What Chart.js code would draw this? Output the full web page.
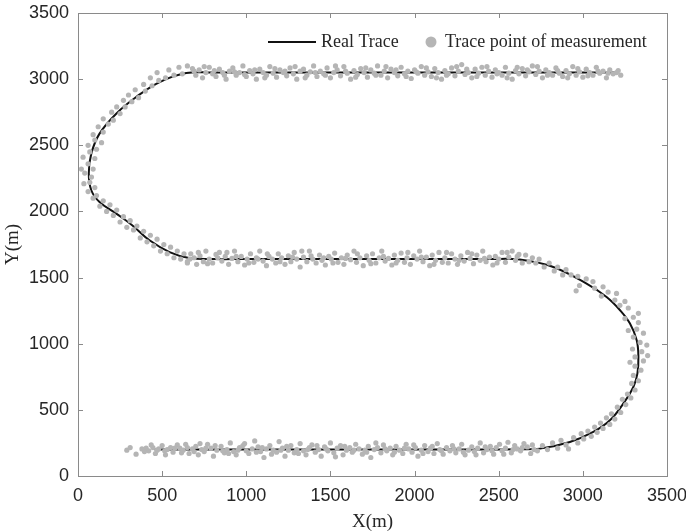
<!DOCTYPE html>
<html>
<head>
<meta charset="utf-8">
<script src="https://cdn.jsdelivr.net/npm/chart.js@4"></script>
<style>
  html, body { margin: 0; padding: 0; background: #fff; }
</style>
</head>
<body>
<canvas id="c" width="686" height="532"></canvas>
<script>
// ---- data ----
const tickVals = [0, 500, 1000, 1500, 2000, 2500, 3000, 3500];

// real trace
const traceX = [455, 1000, 1500, 2000, 2450, 2600, 2745, 2923, 3062, 3161, 3240, 3300, 3324, 3330, 3320, 3280, 3221, 3141, 3022, 2824, 2625, 2450, 2000, 1500, 1000, 800, 660, 544, 425, 320, 227, 128, 79, 64, 79, 128, 227, 346, 485, 643, 800, 1500, 2000, 2600, 3200];
const traceY = [200, 200, 200, 200, 200, 202, 207, 257, 333, 421, 547, 673, 774, 900, 1026, 1152, 1253, 1353, 1454, 1580, 1636, 1640, 1640, 1640, 1640, 1640, 1648, 1693, 1782, 1898, 1983, 2071, 2160, 2286, 2437, 2588, 2739, 2865, 2978, 3046, 3050, 3050, 3050, 3050, 3050];

// measured points, by stretch of the route
const bottomPts = [[290,195],[345,165],[380,205],[405,210],[420,190],[445,215],[460,170],[480,205],[500,230],[515,190],[530,200],[550,215],[565,180],[590,235],[605,210],[625,195],[640,240],[660,170],[680,205],[700,225],[715,160],[735,200],[750,185],[770,240],[790,210],[805,150],[825,195],[850,225],[870,175],[885,200],[905,250],[925,185],[940,160],[960,215],[980,230],[1000,190],[1015,170],[1035,205],[1050,265],[1070,220],[1085,185],[1105,140],[1120,205],[1140,230],[1160,195],[1180,180],[1195,260],[1215,210],[1230,150],[1250,195],[1265,230],[1285,175],[1300,200],[1320,245],[1340,190],[1355,160],[1375,215],[1390,235],[1410,180],[1430,200],[1445,150],[1465,220],[1485,190],[1500,250],[1520,175],[1540,210],[1560,230],[1575,160],[1595,195],[1615,215],[1630,180],[1650,240],[1670,205],[1690,165],[1705,195],[1725,225],[1740,140],[1760,200],[1780,215],[1800,175],[1815,235],[1835,190],[1855,210],[1870,160],[1890,225],[1910,195],[1930,170],[1950,240],[1965,205],[1985,180],[2005,215],[2020,150],[2040,195],[2060,230],[2080,185],[2095,210],[2115,170],[2135,245],[2150,200],[2170,165],[2190,215],[2210,190],[2225,230],[2245,175],[2265,205],[2280,240],[2300,160],[2320,195],[2340,220],[2355,185],[2375,210],[2390,250],[2410,175],[2430,200],[2450,225],[2470,165],[2485,215],[2505,240],[2520,190],[2540,210],[2555,255],[2575,175],[2595,230],[2610,205],[2630,190],[2650,245],[2670,220],[2690,170],[2710,200],
  [310,215],[395,185],[435,235],[470,195],[520,160],[575,210],[615,175],[650,215],[690,185],[725,245],[760,210],[815,230],[860,190],[895,170],[950,195],[990,245],[1060,180],[1095,215],[1150,165],[1205,195],[1240,225],[1310,170],[1365,200],[1420,230],[1475,205],[1530,145],[1585,225],[1640,195],[1715,180],[1770,250],[1825,205],[1880,180],[1940,210],[1995,235],[2050,170],[2105,225],[2160,190],[2235,205],[2290,180],[2365,160],[2420,220],[2460,190],[2530,165],[2585,200],[2640,215],[2700,235]];
const rightPts = [[2730,190],[2760,230],[2790,200],[2820,250],[2850,210],[2870,270],[2900,235],[2915,205],[2945,290],[2970,250],[2990,320],[3005,280],[3030,340],[3050,300],[3070,370],[3085,330],[3105,400],[3120,360],[3140,440],[3160,390],[3170,470],[3190,430],[3205,520],[3225,480],[3235,580],[3255,540],[3265,620],[3285,590],[3290,700],[3310,650],[3300,760],[3330,720],[3345,800],[3310,830],[3280,860],[3360,870],[3310,900],[3385,910],[3350,940],[3295,960],[3380,990],[3340,1010],[3300,1050],[3360,1080],[3320,1110],[3270,1100],[3330,1160],[3300,1200],[3250,1190],[3330,1230],[3270,1270],[3220,1290],[3250,1320],[3190,1330],[3200,1380],[3150,1390],[3110,1360],[3120,1430],[3070,1420],[3060,1470],[3020,1490],[2980,1440],[2970,1510],[2930,1520],[2960,1400],[2900,1560],[2880,1520],[2850,1580],[2830,1550],[2800,1610],[2770,1580],[2740,1640],[2720,1610],[2700,1650],[2680,1620],[2660,1670]];
const middlePts = [[650,1620],[670,1680],[690,1650],[705,1600],[725,1665],[745,1620],[760,1700],[780,1640],[800,1610],[820,1675],[840,1690],[855,1625],[875,1660],[895,1600],[915,1645],[930,1700],[950,1620],[970,1660],[990,1595],[1005,1640],[1025,1680],[1045,1615],[1060,1650],[1080,1700],[1100,1625],[1120,1590],[1135,1660],[1155,1640],[1175,1610],[1190,1680],[1210,1650],[1230,1600],[1250,1665],[1265,1620],[1285,1690],[1300,1640],[1320,1580],[1340,1655],[1360,1620],[1375,1700],[1395,1640],[1415,1610],[1435,1670],[1450,1630],[1470,1595],[1490,1660],[1505,1640],[1525,1685],[1545,1615],[1565,1650],[1580,1600],[1600,1670],[1620,1635],[1640,1700],[1655,1615],[1675,1650],[1695,1590],[1715,1665],[1730,1630],[1750,1680],[1770,1610],[1790,1650],[1805,1700],[1825,1625],[1845,1645],[1865,1595],[1880,1670],[1900,1630],[1920,1685],[1940,1615],[1955,1650],[1975,1600],[1995,1665],[2015,1640],[2030,1700],[2050,1620],[2070,1655],[2090,1590],[2105,1670],[2125,1630],[2145,1690],[2165,1615],[2180,1650],[2200,1610],[2220,1680],[2240,1640],[2255,1600],[2275,1665],[2295,1625],[2315,1690],[2330,1645],[2350,1605],[2370,1670],[2390,1630],[2405,1700],[2425,1620],[2445,1655],[2465,1595],[2480,1660],[2500,1640],[2520,1690],[2540,1615],[2560,1655],[2580,1700],[2600,1630],[2620,1675],[2640,1610],
  [665,1640],[715,1690],[770,1605],[830,1650],[885,1690],[940,1660],[1015,1610],[1070,1640],[1125,1680],[1200,1620],[1275,1655],[1330,1700],[1385,1665],[1460,1650],[1515,1610],[1590,1645],[1660,1680],[1740,1605],[1815,1660],[1890,1610],[1960,1690],[2040,1655],[2115,1600],[2190,1690],[2265,1630],[2340,1680],[2415,1645],[2490,1610],[2550,1690],[2610,1660]];
const leftPts = [[650,1610],[630,1680],[610,1640],[590,1700],[570,1650],[550,1730],[530,1680],[510,1750],[490,1700],[470,1790],[450,1740],[430,1820],[410,1770],[390,1850],[370,1800],[350,1890],[330,1860],[310,1930],[290,1880],[270,1960],[250,1920],[230,2010],[210,1970],[190,2050],[170,2000],[150,2080],[130,2040],[110,2120],[90,2100],[100,2180],[60,2150],[70,2220],[35,2210],[80,2260],[40,2290],[20,2320],[90,2320],[60,2360],[100,2400],[30,2410],[70,2450],[110,2470],[60,2500],[100,2540],[140,2520],[90,2580],[150,2600],[120,2640],[180,2660],[150,2700],[210,2690],[200,2750],[250,2740],[230,2790],[280,2790],[270,2840],[320,2830],[300,2880],[360,2860],[340,2920],[400,2910],[390,2960],[440,2950],[430,3010],[480,2990],[470,3050],[520,3010],[540,3070],[570,3030],[600,3090],[620,3040],[650,3100]];
const topPts = [[680,3080],[700,3030],[720,3070],[740,3010],[760,3050],[780,3090],[800,3040],[820,3020],[840,3075],[860,3050],[880,3000],[900,3060],[920,3085],[940,3030],[960,3050],[980,3100],[1000,3020],[1020,3065],[1040,3040],[1060,3000],[1080,3075],[1100,3050],[1120,3030],[1140,3095],[1160,3045],[1180,3015],[1200,3070],[1220,3050],[1240,3025],[1260,3085],[1280,3040],[1300,3000],[1320,3060],[1340,3075],[1360,3030],[1380,3055],[1400,3100],[1420,3020],[1440,3060],[1460,3040],[1480,3085],[1500,3010],[1520,3050],[1540,3070],[1560,3025],[1580,3095],[1600,3045],[1620,3000],[1640,3065],[1660,3035],[1680,3080],[1700,3050],[1720,3015],[1740,3070],[1760,3045],[1780,3100],[1800,3030],[1820,3060],[1840,3010],[1860,3075],[1880,3050],[1900,3025],[1920,3090],[1940,3040],[1960,3060],[1980,3005],[2000,3070],[2020,3045],[2040,3095],[2060,3030],[2080,3055],[2100,3020],[2120,3080],[2140,3050],[2160,3000],[2180,3065],[2200,3040],[2220,3085],[2240,3025],[2260,3060],[2280,3110],[2300,3035],[2320,3050],[2340,3010],[2360,3075],[2380,3045],[2400,3090],[2420,3030],[2440,3060],[2460,3015],[2480,3070],[2500,3050],[2520,3030],[2540,3090],[2560,3045],[2580,3000],[2600,3065],[2620,3040],[2640,3080],[2660,3025],[2680,3055],[2700,3100],[2720,3035],[2740,3060],[2760,3010],[2780,3070],[2800,3050],[2820,3030],[2840,3085],[2860,3045],[2880,3020],[2900,3065],[2920,3040],[2940,3095],[2960,3030],[2980,3055],[3000,3015],[3020,3075],[3040,3050],[3060,3030],[3080,3090],[3100,3045],[3120,3060],[3140,3010],[3160,3070],[3180,3040],[3200,3050],[3225,3030],
  [690,3060],[750,3095],[810,3065],[870,3030],[930,3055],[990,3035],[1050,3070],[1110,3010],[1170,3080],[1230,3060],[1290,3095],[1350,3010],[1410,3050],[1470,3030],[1530,3100],[1590,3060],[1650,3015],[1710,3085],[1770,3030],[1830,3095],[1890,3070],[1950,3020],[2010,3055],[2070,3085],[2130,3010],[2190,3030],[2250,3095],[2310,3075],[2370,3020],[2430,3095],[2490,3040],[2550,3010],[2610,3090],[2670,3070],[2730,3095],[2790,3030],[2850,3065],[2910,3010],[2970,3080],[3030,3025],[3090,3060],[3150,3045],[3210,3065]];

const POINT_GREY = '#b5b5b5';
const AXIS_GREY = '#8a8a8a';
const TEXT_COL = '#262626';

const measured = [].concat(bottomPts, rightPts, middlePts, leftPts, topPts).map(p => ({ x: p[0], y: p[1] }));
const trace = traceX.map((x, i) => ({ x: x, y: traceY[i] }));

// box round the plot with inward ticks on all four sides (matlab style)
const boxPlugin = {
  id: 'box',
  afterDatasetsDraw(chart) {
    const { ctx, chartArea: a, scales } = chart;
    const tl = 5;
    ctx.save();
    ctx.strokeStyle = AXIS_GREY;
    ctx.lineWidth = 1;
    ctx.strokeRect(Math.round(a.left) + 0.5, Math.round(a.top) + 0.5, Math.round(a.right - a.left), Math.round(a.bottom - a.top));
    ctx.beginPath();
    scales.x.ticks.forEach((t, i) => {
      const px = Math.round(scales.x.getPixelForTick(i)) + 0.5;
      ctx.moveTo(px, a.bottom); ctx.lineTo(px, a.bottom - tl);
      ctx.moveTo(px, a.top); ctx.lineTo(px, a.top + tl);
    });
    scales.y.ticks.forEach((t, i) => {
      const py = Math.round(scales.y.getPixelForTick(i)) + 0.5;
      ctx.moveTo(a.left, py); ctx.lineTo(a.left + tl, py);
      ctx.moveTo(a.right, py); ctx.lineTo(a.right - tl, py);
    });
    ctx.stroke();
    ctx.restore();
  }
};

// legend drawn inside the plot, top right
const innerLegend = {
  id: 'innerLegend',
  afterDraw(chart) {
    const ctx = chart.ctx;
    const ds = chart.data.datasets;
    const y = 42;
    ctx.save();
    ctx.font = '18px "Liberation Serif", "Times New Roman", serif';
    ctx.fillStyle = TEXT_COL;
    ctx.textBaseline = 'middle';
    // line sample
    ctx.strokeStyle = '#111';
    ctx.lineWidth = 2;
    ctx.beginPath(); ctx.moveTo(268, y); ctx.lineTo(316, y); ctx.stroke();
    ctx.fillText(ds[1].label, 321, y);
    // point sample
    ctx.fillStyle = POINT_GREY;
    ctx.beginPath(); ctx.arc(431, y, 5.5, 0, Math.PI * 2); ctx.fill();
    ctx.fillStyle = TEXT_COL;
    ctx.fillText(ds[0].label, 445, y);
    ctx.restore();
  }
};

new Chart(document.getElementById('c'), {
  data: {
    datasets: [
      {
        type: 'scatter',
        label: 'Trace point of measurement',
        data: measured,
        pointRadius: 2.6,
        pointBackgroundColor: POINT_GREY,
        pointBorderWidth: 0,
        order: 0
      },
      {
        type: 'line',
        label: 'Real Trace',
        data: trace,
        borderColor: '#111',
        borderWidth: 2,
        pointRadius: 0,
        tension: 0.4,
        fill: false,
        order: 1
      }
    ]
  },
  options: {
    responsive: false,
    animation: false,
    devicePixelRatio: 1,
    layout: { padding: { top: 13, right: 19, left: 0, bottom: 0 } },
    plugins: { legend: { display: false }, tooltip: { enabled: false } },
    scales: {
      x: {
        type: 'linear', min: 0, max: 3500,
        afterBuildTicks: s => { s.ticks = tickVals.map(v => ({ value: v })); },
        afterFit: s => { s.height = 56; s.paddingRight = 19; s.paddingLeft = 0; },
        grid: { display: false, drawTicks: false },
        border: { display: false },
        ticks: { padding: 9, color: TEXT_COL, font: { family: 'Liberation Sans', size: 18 }, callback: v => String(v) },
        title: { display: true, text: 'X(m)', color: TEXT_COL, padding: { top: 0, bottom: 0 }, font: { family: 'Liberation Serif', size: 19, lineHeight: 1.0 } }
      },
      y: {
        type: 'linear', min: 0, max: 3500,
        afterBuildTicks: s => { s.ticks = tickVals.map(v => ({ value: v })); },
        afterFit: s => { s.width = 78; s.paddingTop = 0; s.paddingBottom = 0; },
        grid: { display: false, drawTicks: false },
        border: { display: false },
        ticks: { padding: 9, color: TEXT_COL, font: { family: 'Liberation Sans', size: 18 }, callback: v => String(v) },
        title: { display: true, text: 'Y(m)', color: TEXT_COL, padding: { top: 2, bottom: 0 }, font: { family: 'Liberation Serif', size: 19 } }
      }
    }
  },
  plugins: [boxPlugin, innerLegend]
});
</script>
</body>
</html>
